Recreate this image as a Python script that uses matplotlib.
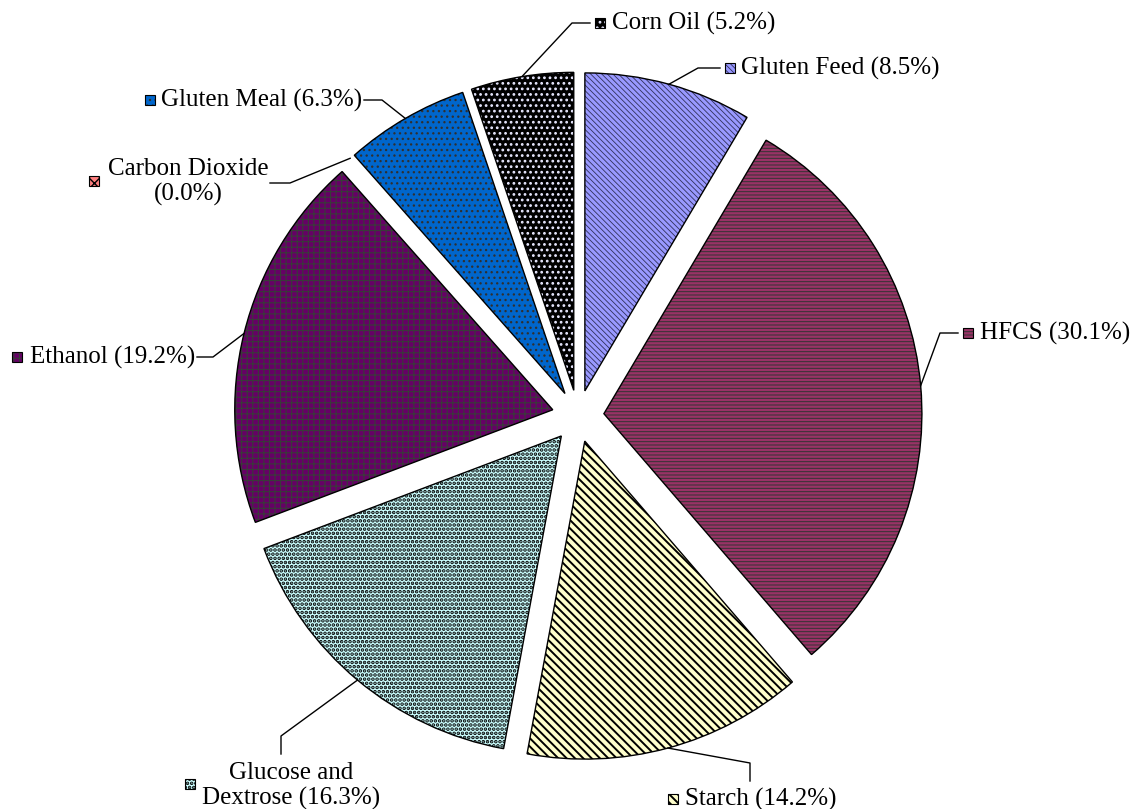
import numpy as np
import matplotlib
matplotlib.use("Agg")
import matplotlib.pyplot as plt
from matplotlib.patches import Wedge, Rectangle

plt.rcParams['font.family'] = ['Liberation Serif', 'DejaVu Serif']

# --- data ---
names = ['Gluten Feed', 'HFCS', 'Starch', 'Glucose and\nDextrose', 'Ethanol',
         'Carbon Dioxide\n', 'Gluten Meal', 'Corn Oil']
shares = [8.5, 30.1, 14.2, 16.3, 19.2, 0.0, 6.3, 5.2]

# --- styles ---
fills = ['#9999FF', '#993366', '#FFFFCC', '#CCFFFF', '#660066', '#FF8080', '#0066CC', '#000000']
hatches = ['\\\\\\\\\\\\', '-----', '\\\\\\\\', '....', '+++', 'xxx', '...', '...']
hatch_cols = ['#30305a', '#333333', '#000000', '#000000', '#3a3a3a', '#000000', '#303030', '#e8e8ff']
hatch_lw = [0.6, 0.7, 1.4, 1.8, 0.8, 1.0, 0.9, 1.2]

W, H = 1135, 809
fig = plt.figure(figsize=(W / 100, H / 100), dpi=100)
ax = fig.add_axes([0, 0, 1, 1])


def px(x, y):
    # screen pixels (y down) -> data coords (y up)
    return x, H - y


def layered(make, fill, hatch, hcol, hlw, lw=1.0):
    base = make(facecolor=fill, edgecolor='none', linewidth=0)
    hat = make(facecolor='none', edgecolor=hcol, linewidth=0, hatch=hatch)
    if hasattr(hat, 'set_hatch_linewidth'):
        hat.set_hatch_linewidth(hlw)
    edge = make(facecolor='none', edgecolor='black', linewidth=lw)
    for p in (base, hat, edge):
        ax.add_patch(p)


# explode is in data units here (radius is 318 px)
wedges, _ = ax.pie(shares, explode=[26] * len(shares), startangle=90,
                   counterclock=False, center=px(578, 416), radius=318,
                   colors=fills, wedgeprops=dict(linewidth=0))
for w in wedges:
    w.set_visible(False)

for i, w in enumerate(wedges):
    if shares[i] == 0:
        continue
    layered(lambda **kw: Wedge(w.center, w.r, w.theta1, w.theta2, **kw),
            fills[i], hatches[i], hatch_cols[i], hatch_lw[i])

# label layout: elbow points, key centre, text position (screen px)
layout = [
    dict(path=[(698, 68), (720, 68)], key=(730, 68), txt=(741, 68), ha='left'),
    dict(path=[(940, 333), (958, 333)], key=(968, 333), txt=(980, 333), ha='left'),
    dict(path=[(750, 763), (750, 781)], key=(673, 799), txt=(685, 799), ha='left'),
    dict(path=[(281, 736), (281, 754)], key=(190, 784), txt=(291, 786), ha='center'),
    dict(path=[(213, 357), (197, 357)], key=(17, 357), txt=(195, 357), ha='right'),
    dict(path=[(290, 183), (270, 183)], key=(94, 181), txt=(188, 182), ha='center'),
    dict(path=[(382, 100), (364, 100)], key=(150, 100), txt=(362, 100), ha='right'),
    dict(path=[(572, 23), (590, 23)], key=(600, 23), txt=(612, 23), ha='left'),
]

for i, w in enumerate(wedges):
    lay = layout[i]
    mid = np.deg2rad((w.theta1 + w.theta2) / 2)
    anchor = (w.center[0] + w.r * np.cos(mid), w.center[1] + w.r * np.sin(mid))
    pts = [anchor] + [px(*p) for p in lay['path']]
    ax.plot([p[0] for p in pts], [p[1] for p in pts], color='black', lw=1)

    kx, ky = px(*lay['key'])
    s = 10
    layered(lambda **kw: Rectangle((kx - s / 2, ky - s / 2), s, s, **kw),
            fills[i], hatches[i], hatch_cols[i], hatch_lw[i], lw=0.8)

    sep = '' if names[i].endswith('\n') else ' '
    label = f"{names[i]}{sep}({shares[i]:.1f}%)"
    tx, ty = px(*lay['txt'])
    ax.text(tx, ty, label, ha=lay['ha'], va='center', fontsize=18,
            multialignment='center', linespacing=1.2, color='black')

ax.set_xlim(0, W)
ax.set_ylim(0, H)
ax.set_aspect('equal')
ax.axis('off')

fig.savefig('out.png', dpi=100, facecolor='white')
